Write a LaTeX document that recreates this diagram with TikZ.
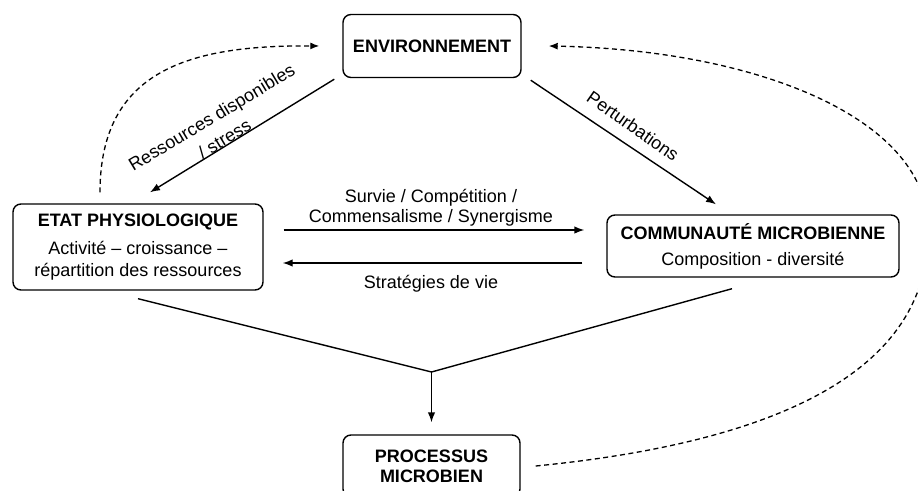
\documentclass[tikz,border=0pt]{standalone}
\usepackage{fontspec}
\setmainfont{Liberation Sans}
\usetikzlibrary{arrows.meta}
\begin{document}
\begin{tikzpicture}[x=1pt,y=-1pt,
  box/.style={draw,line width=1.4pt,rounded corners=8pt,align=center,inner sep=0pt},
  arr/.style={line width=1.4pt,-{Latex[length=10pt,width=7.5pt]}},
  conn/.style={line width=1.4pt},
  dsh/.style={line width=1.3pt,dash pattern=on 5pt off 3.5pt,-{Latex[length=9pt,width=7pt]}},
  lbl/.style={align=center,inner sep=0pt,font=\fontsize{18}{20}\selectfont}]
\useasboundingbox (0,0) rectangle (918,490);
\clip (0,0) rectangle (918,490);
% boxes
\node[box,minimum width=178pt,minimum height=63pt,font=\bfseries\fontsize{18}{20}\selectfont] (ENV) at (432,46) {ENVIRONNEMENT};
\node[box,minimum width=250pt,minimum height=86pt,font=\fontsize{18}{22}\selectfont] (ETAT) at (138,247)
  {{\bfseries ETAT PHYSIOLOGIQUE}\\[6pt]Activité – croissance –\\répartition des ressources};
\node[box,minimum width=292pt,minimum height=62pt,font=\fontsize{18}{26}\selectfont] (COMM) at (753,246)
  {{\bfseries COMMUNAUTÉ MICROBIENNE}\\Composition - diversité};
\node[box,minimum width=177pt,minimum height=62pt,font=\bfseries\fontsize{18}{20}\selectfont] (PROC) at (431.5,466)
  {PROCESSUS\\MICROBIEN};
% solid arrows
\draw[arr] ([xshift=-8pt,yshift=-1pt]ENV.south west) -- ([xshift=12pt,yshift=11pt]ETAT.north);
\draw[arr] ([xshift=9pt,yshift=-2pt]ENV.south east) -- ([xshift=-37pt,yshift=10pt]COMM.north);
\coordinate (ys) at (0,230);
\coordinate (yv) at (0,263);
\draw[arr,shorten <=20pt,shorten >=22pt] (ETAT.east |- ys) -- (COMM.west |- ys);
\draw[arr,shorten <=24pt,shorten >=19pt] (COMM.west |- yv) -- (ETAT.east |- yv);
\coordinate (j) at (431.5,372);
\draw[conn] ([yshift=-8pt]ETAT.south) -- (j) -- ([xshift=-21pt,yshift=-11pt]COMM.south);
\draw[arr,shorten >=12pt] (j) -- (PROC.north);
% dashed feedbacks
\draw[dsh] ([xshift=-38pt,yshift=11pt]ETAT.north) .. controls (100,70) and (190,45) .. ([xshift=-23pt]ENV.west);
\draw[dsh] ([xshift=15pt]PROC.east) .. controls (800,440) and (930,360) .. (928,230)
  .. controls (930,120) and (760,50) .. ([xshift=27pt]ENV.east);
% labels
\node[lbl,rotate=31] (lres) at (218,128) {Ressources disponibles\\[5pt]/ stress};
\node[lbl,rotate=-35] (lper) at (633,126) {Perturbations};
\node[lbl] (lsur) at (431,208) {Survie / Compétition /\\Commensalisme / Synergisme};
\node[lbl] (lstr) at (431,284) {Stratégies de vie};
\end{tikzpicture}
\end{document}
